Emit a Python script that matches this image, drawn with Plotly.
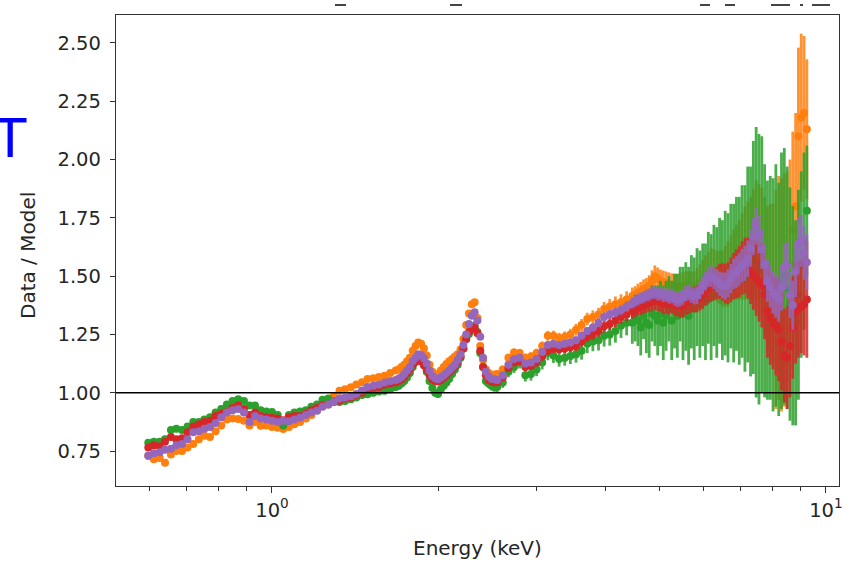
import math
import plotly.graph_objects as go

# Photon energy bins (keV); finer binning around the line features and at high energy
energy = [
    0.598, 0.612, 0.627, 0.641, 0.657, 0.672, 0.688, 0.704, 0.721, 0.738,
    0.755, 0.773, 0.791, 0.810, 0.829, 0.849, 0.869, 0.890, 0.911, 0.932,
    0.954, 0.977, 1.000, 1.024, 1.048, 1.073, 1.098, 1.124, 1.151, 1.178,
    1.206, 1.234, 1.264, 1.293, 1.324, 1.355, 1.388, 1.420, 1.454, 1.488,
    1.524, 1.560, 1.597, 1.635,
    1.673, 1.693, 1.713, 1.733, 1.753, 1.774, 1.795, 1.816, 1.837, 1.859,
    1.881, 1.903, 1.925, 1.948, 1.971, 1.994, 2.018, 2.042, 2.065, 2.089,
    2.114, 2.139, 2.164, 2.190, 2.216, 2.242, 2.268, 2.295, 2.322, 2.349,
    2.377, 2.405, 2.433, 2.462, 2.491, 2.520, 2.550,
    2.610, 2.672, 2.735, 2.800, 2.867, 2.934, 3.004, 3.075, 3.148, 3.222,
    3.299, 3.377, 3.457, 3.539, 3.622, 3.708, 3.796, 3.886, 3.978, 4.072,
    4.169, 4.267, 4.368,
    4.472, 4.525, 4.578, 4.632, 4.686, 4.741, 4.797, 4.854, 4.911, 4.969,
    5.027, 5.086, 5.146, 5.207, 5.268, 5.330, 5.393, 5.456, 5.521, 5.586,
    5.651, 5.718, 5.785, 5.853, 5.922, 5.992, 6.062, 6.134, 6.206, 6.279,
    6.353, 6.428, 6.503, 6.580, 6.657, 6.736, 6.815, 6.895, 6.976, 7.058,
    7.142, 7.226, 7.311, 7.397, 7.484, 7.572, 7.661, 7.751, 7.843, 7.935,
    8.028, 8.123, 8.219, 8.315, 8.413, 8.512, 8.613, 8.714, 8.817, 8.921,
    9.025, 9.132, 9.239,
]

# Data/model ratio and 1-sigma error for each spectrum
ratio_orange = [
    0.730, 0.715, 0.720, 0.700, 0.735, 0.750, 0.750, 0.765, 0.780, 0.800,
    0.815, 0.810, 0.835, 0.860, 0.885, 0.890, 0.887, 0.880, 0.860, 0.875,
    0.858, 0.860, 0.853, 0.850, 0.844, 0.853, 0.865, 0.875, 0.890, 0.905,
    0.925, 0.945, 0.960, 0.985, 1.009, 1.015, 1.024, 1.035, 1.045, 1.059,
    1.062, 1.068, 1.073, 1.085,
    1.095, 1.100, 1.110, 1.120, 1.135, 1.150, 1.180, 1.200, 1.215, 1.210,
    1.190, 1.160, 1.120, 1.090, 1.075, 1.080, 1.095, 1.110, 1.123, 1.135,
    1.145, 1.155, 1.165, 1.185, 1.230, 1.290, 1.340, 1.380, 1.388, 1.320,
    1.200, 1.140, 1.100, 1.085, 1.075, 1.078, 1.080,
    1.100, 1.150, 1.173, 1.170, 1.150, 1.155, 1.170, 1.200, 1.244, 1.244,
    1.235, 1.240, 1.250, 1.270, 1.290, 1.316, 1.325, 1.335, 1.359, 1.370,
    1.380, 1.388, 1.400,
    1.415, 1.420, 1.430, 1.435, 1.445, 1.450, 1.460, 1.480, 1.500, 1.490,
    1.480, 1.475, 1.470, 1.465, 1.460, 1.458, 1.455, 1.458, 1.460, 1.462,
    1.460, 1.455, 1.450, 1.460, 1.470, 1.485, 1.500, 1.510, 1.520, 1.510,
    1.500, 1.495, 1.490, 1.500, 1.510, 1.530, 1.550, 1.560, 1.570, 1.585,
    1.600, 1.610, 1.620, 1.640, 1.660, 1.630, 1.600, 1.550, 1.500, 1.480,
    1.460, 1.400, 1.450, 1.420, 1.440, 1.500, 1.550, 1.700, 1.800, 2.100,
    2.180, 2.200, 2.130,
]
err_orange = [
    0.014, 0.014, 0.013, 0.013, 0.013, 0.012, 0.012, 0.012, 0.012, 0.012,
    0.012, 0.012, 0.012, 0.012, 0.012, 0.012, 0.012, 0.012, 0.012, 0.012,
    0.012, 0.012, 0.012, 0.012, 0.012, 0.012, 0.012, 0.012, 0.012, 0.012,
    0.012, 0.012, 0.012, 0.012, 0.012, 0.012, 0.012, 0.012, 0.012, 0.012,
    0.012, 0.012, 0.012, 0.012,
    0.013, 0.013, 0.013, 0.013, 0.013, 0.013, 0.013, 0.013, 0.013, 0.013,
    0.013, 0.013, 0.013, 0.013, 0.013, 0.013, 0.013, 0.013, 0.013, 0.013,
    0.014, 0.014, 0.014, 0.014, 0.014, 0.014, 0.014, 0.014, 0.014, 0.014,
    0.014, 0.014, 0.015, 0.015, 0.015, 0.015, 0.015,
    0.016, 0.017, 0.017, 0.018, 0.018, 0.019, 0.019, 0.020, 0.021, 0.022,
    0.022, 0.023, 0.024, 0.025, 0.026, 0.027, 0.028, 0.029, 0.030, 0.032,
    0.033, 0.034, 0.035,
    0.036, 0.037, 0.038, 0.040, 0.041, 0.042, 0.044, 0.045, 0.046, 0.047,
    0.048, 0.049, 0.050, 0.051, 0.052, 0.053, 0.055, 0.056, 0.058, 0.059,
    0.060, 0.065, 0.070, 0.075, 0.080, 0.085, 0.090, 0.095, 0.100, 0.105,
    0.110, 0.115, 0.120, 0.130, 0.140, 0.145, 0.150, 0.160, 0.170, 0.185,
    0.200, 0.210, 0.220, 0.235, 0.250, 0.265, 0.280, 0.290, 0.300, 0.330,
    0.350, 0.470, 0.480, 0.500, 0.500, 0.450, 0.450, 0.420, 0.400, 0.380,
    0.360, 0.330, 0.300,
]

ratio_green = [
    0.785, 0.790, 0.790, 0.800, 0.840, 0.845, 0.840, 0.855, 0.875, 0.875,
    0.885, 0.895, 0.915, 0.930, 0.950, 0.965, 0.972, 0.965, 0.945, 0.945,
    0.925, 0.920, 0.917, 0.905, 0.860, 0.905, 0.915, 0.920, 0.925, 0.940,
    0.950, 0.970, 0.975, 0.965, 0.960, 0.965, 0.972, 0.980, 0.990, 0.993,
    1.000, 1.005, 1.008, 1.015,
    1.025, 1.030, 1.040, 1.050, 1.065, 1.085, 1.110, 1.135, 1.150, 1.140,
    1.120, 1.090, 1.050, 1.020, 1.000, 0.995, 1.015, 1.030, 1.044, 1.060,
    1.080, 1.100, 1.120, 1.150, 1.190, 1.230, 1.252, 1.275, 1.287, 1.260,
    1.170, 1.110, 1.050, 1.040, 1.030, 1.025, 1.025,
    1.044, 1.090, 1.110, 1.130, 1.075, 1.080, 1.100, 1.130, 1.170, 1.160,
    1.145, 1.150, 1.158, 1.165, 1.180, 1.210, 1.220, 1.225, 1.244, 1.250,
    1.265, 1.287, 1.300,
    1.300, 1.320, 1.310, 1.280, 1.330, 1.300, 1.290, 1.340, 1.330, 1.310,
    1.340, 1.300, 1.330, 1.360, 1.310, 1.350, 1.330, 1.380, 1.340, 1.370,
    1.330, 1.390, 1.360, 1.410, 1.380, 1.420, 1.390, 1.450, 1.410, 1.460,
    1.430, 1.480, 1.440, 1.470, 1.450, 1.500, 1.470, 1.510, 1.480, 1.520,
    1.490, 1.550, 1.520, 1.580, 1.560, 1.530, 1.550, 1.480, 1.440, 1.450,
    1.420, 1.460, 1.400, 1.480, 1.500, 1.450, 1.380, 1.330, 1.300, 1.420,
    1.550, 1.650, 1.780,
]
err_green = [
    0.015, 0.015, 0.015, 0.015, 0.014, 0.014, 0.014, 0.014, 0.014, 0.014,
    0.014, 0.014, 0.014, 0.014, 0.014, 0.014, 0.014, 0.014, 0.014, 0.014,
    0.014, 0.014, 0.014, 0.014, 0.014, 0.014, 0.014, 0.014, 0.014, 0.014,
    0.014, 0.014, 0.014, 0.014, 0.014, 0.014, 0.014, 0.014, 0.014, 0.014,
    0.015, 0.015, 0.015, 0.015,
    0.015, 0.015, 0.015, 0.015, 0.015, 0.015, 0.015, 0.015, 0.015, 0.015,
    0.016, 0.016, 0.016, 0.016, 0.016, 0.016, 0.016, 0.016, 0.017, 0.017,
    0.017, 0.017, 0.017, 0.017, 0.018, 0.018, 0.018, 0.018, 0.018, 0.018,
    0.019, 0.019, 0.020, 0.020, 0.021, 0.021, 0.022,
    0.023, 0.024, 0.025, 0.026, 0.027, 0.028, 0.029, 0.030, 0.031, 0.032,
    0.033, 0.034, 0.035, 0.036, 0.038, 0.040, 0.042, 0.044, 0.046, 0.048,
    0.050, 0.052, 0.054,
    0.090, 0.100, 0.110, 0.120, 0.100, 0.130, 0.140, 0.120, 0.130, 0.150,
    0.140, 0.160, 0.150, 0.140, 0.170, 0.160, 0.180, 0.160, 0.200, 0.190,
    0.210, 0.200, 0.220, 0.210, 0.230, 0.220, 0.250, 0.240, 0.270, 0.260,
    0.280, 0.270, 0.300, 0.310, 0.320, 0.310, 0.340, 0.330, 0.360, 0.370,
    0.400, 0.420, 0.450, 0.500, 0.580, 0.580, 0.550, 0.500, 0.470, 0.480,
    0.500, 0.520, 0.500, 0.550, 0.550, 0.520, 0.500, 0.470, 0.440, 0.450,
    0.400, 0.380, 0.280,
]

ratio_red = [
    0.765, 0.775, 0.770, 0.790, 0.810, 0.800, 0.805, 0.830, 0.855, 0.865,
    0.875, 0.880, 0.900, 0.910, 0.917, 0.935, 0.945, 0.930, 0.905, 0.915,
    0.900, 0.895, 0.893, 0.890, 0.882, 0.895, 0.900, 0.900, 0.910, 0.925,
    0.935, 0.945, 0.950, 0.960, 0.966, 0.975, 0.980, 0.990, 1.000, 1.015,
    1.020, 1.025, 1.035, 1.040,
    1.045, 1.050, 1.058, 1.068, 1.085, 1.100, 1.120, 1.132, 1.140, 1.135,
    1.118, 1.100, 1.075, 1.058, 1.050, 1.048, 1.055, 1.065, 1.075, 1.088,
    1.100, 1.112, 1.130, 1.155, 1.190, 1.230, 1.260, 1.275, 1.280, 1.255,
    1.180, 1.110, 1.075, 1.055, 1.048, 1.045, 1.045,
    1.065, 1.105, 1.130, 1.135, 1.110, 1.115, 1.130, 1.155, 1.180, 1.190,
    1.187, 1.190, 1.195, 1.200, 1.220, 1.240, 1.250, 1.265, 1.285, 1.295,
    1.310, 1.325, 1.335,
    1.350, 1.355, 1.365, 1.368, 1.375, 1.380, 1.385, 1.390, 1.395, 1.392,
    1.390, 1.380, 1.385, 1.380, 1.388, 1.378, 1.375, 1.370, 1.373, 1.385,
    1.390, 1.398, 1.400, 1.402, 1.410, 1.420, 1.435, 1.448, 1.455, 1.465,
    1.470, 1.478, 1.475, 1.468, 1.470, 1.485, 1.500, 1.510, 1.520, 1.535,
    1.545, 1.535, 1.520, 1.505, 1.490, 1.475, 1.460, 1.420, 1.350, 1.320,
    1.300, 1.285, 1.270, 1.220, 1.160, 1.150, 1.200, 1.280, 1.345, 1.360,
    1.370, 1.380, 1.400,
]
err_red = [
    0.013, 0.013, 0.013, 0.012, 0.012, 0.012, 0.012, 0.012, 0.012, 0.012,
    0.012, 0.012, 0.012, 0.012, 0.012, 0.012, 0.012, 0.012, 0.012, 0.012,
    0.012, 0.012, 0.012, 0.012, 0.012, 0.012, 0.012, 0.012, 0.012, 0.012,
    0.012, 0.012, 0.012, 0.012, 0.012, 0.012, 0.012, 0.012, 0.012, 0.012,
    0.012, 0.012, 0.012, 0.012,
    0.012, 0.012, 0.012, 0.012, 0.012, 0.012, 0.012, 0.012, 0.012, 0.012,
    0.013, 0.013, 0.013, 0.013, 0.013, 0.013, 0.013, 0.013, 0.013, 0.013,
    0.013, 0.013, 0.013, 0.013, 0.013, 0.014, 0.014, 0.014, 0.014, 0.014,
    0.014, 0.014, 0.014, 0.014, 0.014, 0.015, 0.015,
    0.015, 0.015, 0.016, 0.016, 0.016, 0.017, 0.017, 0.018, 0.018, 0.019,
    0.019, 0.020, 0.020, 0.021, 0.022, 0.023, 0.024, 0.025, 0.026, 0.027,
    0.028, 0.029, 0.030,
    0.032, 0.033, 0.034, 0.035, 0.036, 0.037, 0.038, 0.039, 0.040, 0.041,
    0.042, 0.043, 0.044, 0.045, 0.046, 0.047, 0.048, 0.049, 0.050, 0.051,
    0.052, 0.054, 0.055, 0.057, 0.058, 0.060, 0.062, 0.064, 0.066, 0.068,
    0.070, 0.075, 0.080, 0.085, 0.090, 0.095, 0.100, 0.105, 0.110, 0.115,
    0.120, 0.130, 0.140, 0.150, 0.160, 0.170, 0.180, 0.190, 0.200, 0.200,
    0.200, 0.210, 0.220, 0.210, 0.200, 0.220, 0.220, 0.220, 0.220, 0.210,
    0.200, 0.220, 0.250,
]

ratio_purple = [
    0.730, 0.740, 0.745, 0.755, 0.760, 0.775, 0.780, 0.800, 0.830, 0.835,
    0.845, 0.853, 0.870, 0.895, 0.915, 0.925, 0.930, 0.915, 0.875, 0.900,
    0.890, 0.885, 0.880, 0.875, 0.880, 0.878, 0.885, 0.893, 0.905, 0.915,
    0.923, 0.940, 0.950, 0.960, 0.975, 0.980, 0.985, 0.995, 1.010, 1.025,
    1.030, 1.035, 1.044, 1.050,
    1.055, 1.060, 1.068, 1.080, 1.095, 1.110, 1.135, 1.150, 1.165, 1.162,
    1.148, 1.125, 1.095, 1.072, 1.062, 1.058, 1.065, 1.075, 1.085, 1.095,
    1.108, 1.120, 1.140, 1.165, 1.205, 1.250, 1.295, 1.330, 1.345, 1.310,
    1.240, 1.150, 1.090, 1.070, 1.060, 1.058, 1.055,
    1.075, 1.120, 1.145, 1.150, 1.125, 1.130, 1.145, 1.175, 1.205, 1.210,
    1.205, 1.210, 1.215, 1.225, 1.245, 1.265, 1.280, 1.300, 1.325, 1.335,
    1.345, 1.355, 1.370,
    1.385, 1.392, 1.400, 1.405, 1.410, 1.418, 1.420, 1.428, 1.430, 1.424,
    1.425, 1.418, 1.420, 1.412, 1.415, 1.405, 1.400, 1.402, 1.410, 1.425,
    1.430, 1.420, 1.415, 1.418, 1.440, 1.460, 1.478, 1.495, 1.500, 1.492,
    1.480, 1.468, 1.460, 1.458, 1.470, 1.490, 1.510, 1.518, 1.530, 1.545,
    1.555, 1.575, 1.620, 1.670, 1.715, 1.680, 1.615, 1.550, 1.480, 1.455,
    1.430, 1.415, 1.400, 1.450, 1.540, 1.545, 1.420, 1.375, 1.520, 1.640,
    1.650, 1.600, 1.560,
]
err_purple = [
    0.011, 0.011, 0.011, 0.011, 0.010, 0.010, 0.010, 0.010, 0.010, 0.010,
    0.010, 0.010, 0.010, 0.010, 0.010, 0.010, 0.010, 0.010, 0.010, 0.010,
    0.010, 0.010, 0.010, 0.010, 0.010, 0.010, 0.010, 0.010, 0.010, 0.010,
    0.010, 0.010, 0.010, 0.010, 0.010, 0.010, 0.010, 0.010, 0.010, 0.010,
    0.010, 0.010, 0.010, 0.010,
    0.010, 0.010, 0.010, 0.010, 0.010, 0.010, 0.010, 0.010, 0.010, 0.010,
    0.011, 0.011, 0.011, 0.011, 0.011, 0.011, 0.011, 0.011, 0.011, 0.011,
    0.011, 0.011, 0.011, 0.011, 0.011, 0.011, 0.011, 0.011, 0.011, 0.011,
    0.012, 0.012, 0.012, 0.012, 0.012, 0.012, 0.012,
    0.012, 0.012, 0.013, 0.013, 0.013, 0.013, 0.014, 0.014, 0.014, 0.015,
    0.015, 0.015, 0.016, 0.016, 0.017, 0.017, 0.018, 0.018, 0.019, 0.020,
    0.021, 0.022, 0.023,
    0.024, 0.024, 0.025, 0.025, 0.026, 0.026, 0.027, 0.027, 0.028, 0.028,
    0.029, 0.029, 0.030, 0.030, 0.031, 0.031, 0.032, 0.032, 0.033, 0.033,
    0.034, 0.035, 0.036, 0.037, 0.038, 0.039, 0.040, 0.042, 0.045, 0.048,
    0.050, 0.052, 0.055, 0.058, 0.060, 0.062, 0.065, 0.068, 0.070, 0.072,
    0.075, 0.078, 0.080, 0.080, 0.080, 0.082, 0.085, 0.088, 0.090, 0.090,
    0.090, 0.092, 0.095, 0.098, 0.100, 0.100, 0.100, 0.105, 0.110, 0.110,
    0.110, 0.115, 0.120,
]

series = [
    ("orange", ratio_orange, err_orange, (255, 127, 14)),
    ("green", ratio_green, err_green, (44, 160, 44)),
    ("red", ratio_red, err_red, (214, 39, 40)),
    ("purple", ratio_purple, err_purple, (148, 103, 189)),
]

y_ticks = [0.75, 1.00, 1.25, 1.50, 1.75, 2.00, 2.25, 2.50]
x_major = [1, 10]
x_major_text = ["10<sup>0</sup>", "10<sup>1</sup>"]
x_minor = [0.6, 0.7, 0.8, 0.9, 2, 3, 4, 5, 6, 7, 8, 9]

for _, vals, errs, _ in series:
    assert len(vals) == len(energy) == len(errs)

fig = go.Figure()
for name, vals, errs, (r, g, b) in series:
    fig.add_trace(go.Scatter(
        x=energy, y=vals, mode="markers", name=name,
        marker=dict(color=f"rgb({r},{g},{b})", size=8, line=dict(width=0)),
        error_y=dict(type="data", array=errs, visible=True,
                     color=f"rgba({r},{g},{b},0.85)", thickness=2.8, width=0),
    ))

axis_col = "#333333"
text_col = "#262626"
tick_font = dict(family="DejaVu Sans", size=19.5, color=text_col)

# Clipped remnants of a heading above the plot frame
heading_bits = [(335, 346), (450, 462), (700, 710), (725, 735), (771, 790),
                (800, 803), (812, 830)]
shapes = [
    dict(type="line", xref="paper", yref="y", x0=0, x1=1, y0=1.0, y1=1.0,
         line=dict(color="black", width=1.6), layer="above"),
]
for x0, x1 in heading_bits:
    shapes.append(dict(
        type="line", xref="paper", yref="paper",
        x0=(x0 - 116) / 723, x1=(x1 - 116) / 723,
        y0=(486 - 5) / 471, y1=(486 - 5) / 471,
        line=dict(color="#444444", width=2),
    ))

fig.update_layout(
    width=861, height=563,
    margin=dict(l=116, r=22, t=15, b=77),
    paper_bgcolor="white", plot_bgcolor="white",
    showlegend=False,
    font=dict(family="DejaVu Sans", color=text_col),
    xaxis=dict(
        type="log",
        range=[math.log10(0.5229), math.log10(10.56)],
        tickvals=x_major, ticktext=x_major_text,
        ticks="outside", ticklen=6, tickwidth=1.2, tickcolor=axis_col,
        showline=True, mirror=True, linecolor=axis_col, linewidth=1.3,
        showgrid=False, zeroline=False, tickfont=tick_font,
        minor=dict(tickvals=x_minor, ticks="outside", ticklen=3.5,
                   tickwidth=1.0, tickcolor=axis_col, showgrid=False),
    ),
    yaxis=dict(
        range=[0.60, 2.62],
        tickvals=y_ticks, tickformat=".2f",
        ticks="outside", ticklen=5, tickwidth=1.2, tickcolor=axis_col,
        showline=True, mirror=True, linecolor=axis_col, linewidth=1.3,
        showgrid=False, zeroline=False, tickfont=tick_font,
        ticklabelstandoff=5,
    ),
    shapes=shapes,
    annotations=[
        dict(text="Energy (keV)", xref="paper", yref="paper", x=0.5, y=-0.132,
             xanchor="center", yanchor="middle", showarrow=False,
             font=dict(family="DejaVu Sans", size=20, color=text_col)),
        dict(text="Data / Model", xref="paper", yref="paper", x=-0.122, y=0.49,
             xanchor="center", yanchor="middle", showarrow=False, textangle=-90,
             font=dict(family="DejaVu Sans", size=20, color=text_col)),
        dict(text="T", xref="paper", yref="paper", x=-0.1468, y=0.738,
             xanchor="center", yanchor="middle", showarrow=False,
             font=dict(family="DejaVu Sans", size=53, color="#0000ff")),
    ],
)

fig.write_html("out.html")
